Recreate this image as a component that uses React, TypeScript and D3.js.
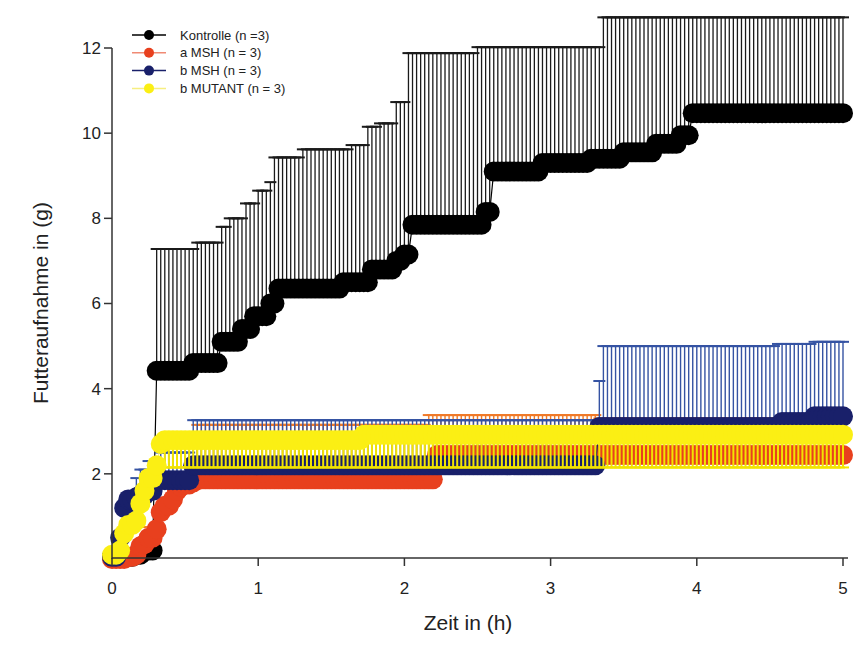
import React from 'react'
import * as d3 from 'd3'

const W = 864
const H = 659

const xTicks = [0, 1, 2, 3, 4, 5]
const yTicks = [2, 4, 6, 8, 10, 12]
const seriesNames = ['Kontrolle (n =3)', 'a MSH (n = 3)', 'b MSH (n = 3)', 'b MUTANT (n = 3)']

// Messpunkte alle 100 s (1/36 h) von 0 bis 5 h
const sampleCount = 181
const sampleStep = 1 / 36

// Stufen: [Zeit in h, Wert in g], Wert gilt ab diesem Zeitpunkt
const kontrolleMean: [number, number][] = [
  [0, 0.05], [0.139, 0.1], [0.222, 0.2], [0.3, 4.42], [0.55, 4.6], [0.74, 5.1], [0.87, 5.4],
  [0.97, 5.7], [1.06, 6.0], [1.13, 6.35], [1.58, 6.5], [1.77, 6.8], [1.93, 7.0], [2.0, 7.15],
  [2.04, 7.85], [2.54, 8.15], [2.6, 9.1], [2.92, 9.3], [3.27, 9.4], [3.5, 9.55], [3.7, 9.75],
  [3.87, 9.95], [3.96, 10.47],
]
// Mittelwert + SD (0 = kein Fehlerbalken)
const kontrolleUpper: [number, number][] = [
  [0, 0], [0.3, 7.28], [0.58, 7.43], [0.75, 7.8], [0.78, 8.0], [0.9, 8.35], [0.99, 8.65],
  [1.06, 8.85], [1.1, 9.43], [1.3, 9.62], [1.62, 9.72], [1.74, 10.15], [1.83, 10.23],
  [1.92, 10.73], [2.02, 11.88], [2.48, 12.02], [3.35, 12.72],
]

const aMshMean: [number, number][] = [
  [0, 0], [0.111, 0.05], [0.139, 0.1], [0.167, 0.15], [0.194, 0.3], [0.222, 0.35], [0.25, 0.5],
  [0.278, 0.7], [0.306, 0.9], [0.333, 1.1], [0.361, 1.25], [0.389, 1.4], [0.417, 1.5],
  [0.444, 1.6], [0.472, 1.7], [0.5, 1.75], [0.528, 1.8], [0.556, 1.85], [0.6, 1.87], [2.22, 2.44],
]
const aMshUpper: [number, number][] = [
  [0, 0], [0.25, 0.75], [0.278, 0], [0.556, 3.15], [2.15, 3.38], [3.31, 3.3],
]

const bMshMean: [number, number][] = [
  [0, 0.05], [0.028, 0.5], [0.056, 0.8], [0.083, 1.2], [0.111, 1.4], [0.139, 1.45], [0.194, 1.5],
  [0.25, 1.6], [0.278, 1.85], [0.528, 2.2], [3.31, 3.1], [4.58, 3.22], [4.8, 3.35],
]
const bMshUpper: [number, number][] = [
  [0, 0], [0.139, 1.9], [0.194, 2.1], [0.25, 2.3], [0.333, 2.5], [0.528, 3.26], [3.31, 4.18],
  [3.34, 5.0], [4.55, 5.05], [4.78, 5.1],
]

const bMutantMean: [number, number][] = [
  [0, 0.1], [0.028, 0.2], [0.056, 0.35], [0.083, 0.6], [0.111, 0.8], [0.139, 0.9], [0.167, 1.2],
  [0.194, 1.3], [0.222, 1.6], [0.25, 1.9], [0.278, 2.2], [0.306, 2.5], [0.333, 2.7],
  [0.361, 2.79], [1.7, 2.92],
]
// Mittelwert - SD
const bMutantLower: [number, number][] = [
  [0, 0], [0.361, 2.15],
]

const stepAt = (steps: [number, number][], t: number) => {
  let v = steps[0][1]
  for (const s of steps) if (s[0] <= t + 1e-6) v = s[1]
  return v
}

const times = d3.range(sampleCount).map(i => i * sampleStep)

const series = [
  {name: seriesNames[0], mean: kontrolleMean, err: kontrolleUpper, color: '#000', line: '#000', bar: '#1a1a1a', barW: 1.3},
  {name: seriesNames[1], mean: aMshMean, err: aMshUpper, color: '#e8401e', line: '#f08a74', bar: '#f07a28', barW: 1.4},
  {name: seriesNames[2], mean: bMshMean, err: bMshUpper, color: '#19206a', line: '#19206a', bar: '#3553a3', barW: 1.4},
  {name: seriesNames[3], mean: bMutantMean, err: bMutantLower, color: '#fbef14', line: '#f6ee80', bar: '#f2e400', barW: 2},
].map(s => ({
  ...s,
  points: times.map(t => ({t, m: stepAt(s.mean, t), e: stepAt(s.err, t)})),
}))

const font = 'Liberation Sans, Arial, sans-serif'

export default function App() {
  const x = d3.scaleLinear().domain([0, 5]).range([112, 843])
  const y = d3.scaleLinear().domain([0, 12]).range([559, 48])
  const line = d3.line<{t: number, m: number}>().x(d => x(d.t)).y(d => y(d.m))
  const capHalf = 6

  return (
    <svg width={W} height={H} style={{position: 'absolute', left: 0, top: 0, background: '#fff'}}
      fontFamily={font}>
      <rect width={W} height={H} fill="#fff" />

      {series.map((s, si) => (
        <g key={si}>
          <g stroke={s.bar}>
            {s.points.filter(p => p.e > 0 && Math.abs(p.e - p.m) > 0.02).map((p, i) => (
              <g key={i}>
                <line x1={x(p.t)} x2={x(p.t)} y1={y(p.m)} y2={y(p.e)} strokeWidth={s.barW} />
                <line x1={x(p.t) - capHalf} x2={x(p.t) + capHalf} y1={y(p.e)} y2={y(p.e)} strokeWidth={2} />
              </g>
            ))}
          </g>
          <path d={line(s.points) ?? ''} fill="none" stroke={s.line} strokeWidth={1.2} />
          {s.points.map((p, i) => (
            <circle key={i} cx={x(p.t)} cy={y(p.m)} r={10} fill={s.color} />
          ))}
        </g>
      ))}

      {/* Achsen */}
      <g stroke="#333" strokeWidth={1.5}>
        <line x1={x(0)} x2={x(0)} y1={y(12)} y2={y(0)} />
        <line x1={x(0)} x2={848} y1={558} y2={558} />
        {yTicks.map(t => <line key={t} x1={x(0) - 8} x2={x(0)} y1={y(t)} y2={y(t)} />)}
        {xTicks.map(t => <line key={t} x1={x(t)} x2={x(t)} y1={558} y2={566} />)}
      </g>
      <g fontSize={17} fill="#222">
        {yTicks.map(t => (
          <text key={t} x={101} y={y(t)} dy="0.35em" textAnchor="end">{t}</text>
        ))}
        {xTicks.map(t => (
          <text key={t} x={x(t)} y={594} textAnchor="middle">{t}</text>
        ))}
      </g>
      <text x={468} y={630} fontSize={21} textAnchor="middle" fill="#222">Zeit in (h)</text>
      <text transform="translate(48,303) rotate(-90)" fontSize={21} textAnchor="middle" fill="#222">
        Futteraufnahme in (g)
      </text>

      {/* Legende */}
      {series.map((s, i) => {
        const ly = 35 + i * 17.8
        return (
          <g key={i}>
            <line x1={132} x2={166} y1={ly} y2={ly} stroke={s.line} strokeWidth={1.5} />
            <circle cx={149} cy={ly} r={5} fill={s.color} />
            <text x={180} y={ly} dy="0.35em" fontSize={13} fill="#222">{s.name}</text>
          </g>
        )
      })}
    </svg>
  )
}
